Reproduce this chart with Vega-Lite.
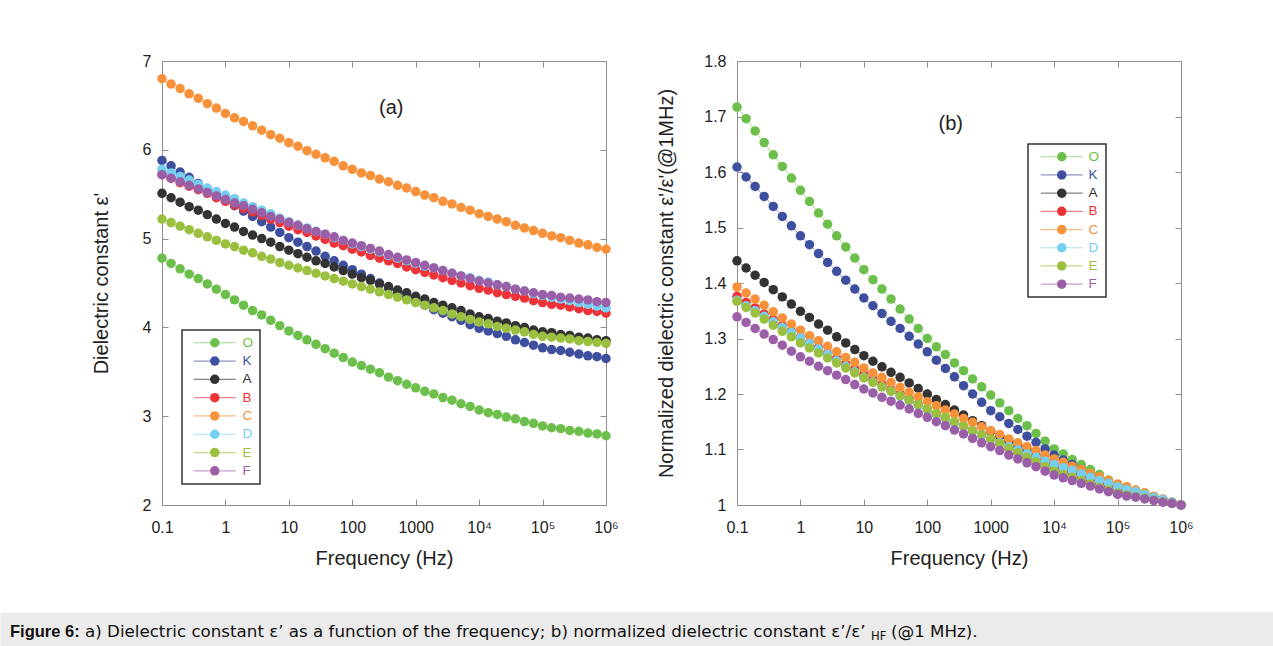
{
"$schema": "https://vega.github.io/schema/vega-lite/v6.json",
"background": "white",
"padding": {"top": 52, "left": 0, "right": 0, "bottom": 0},
"data": {"values": [
{"s":"O","f":0.1,"a":4.78,"b":1.717},{"s":"O","f":0.139,"a":4.72,"b":1.696},{"s":"O","f":0.193,"a":4.66,"b":1.674},{"s":"O","f":0.268,"a":4.6,"b":1.653},{"s":"O","f":0.373,"a":4.55,"b":1.631},{"s":"O","f":0.518,"a":4.49,"b":1.61},{"s":"O","f":0.72,"a":4.43,"b":1.589},
{"s":"O","f":1,"a":4.37,"b":1.567},{"s":"O","f":1.39,"a":4.31,"b":1.547},{"s":"O","f":1.93,"a":4.25,"b":1.526},{"s":"O","f":2.68,"a":4.19,"b":1.506},{"s":"O","f":3.73,"a":4.14,"b":1.485},{"s":"O","f":5.18,"a":4.08,"b":1.465},{"s":"O","f":7.2,"a":4.02,"b":1.445},
{"s":"O","f":10,"a":3.96,"b":1.424},{"s":"O","f":13.9,"a":3.91,"b":1.406},{"s":"O","f":19.3,"a":3.86,"b":1.389},{"s":"O","f":26.8,"a":3.81,"b":1.371},{"s":"O","f":37.3,"a":3.76,"b":1.353},{"s":"O","f":51.8,"a":3.71,"b":1.335},{"s":"O","f":72,"a":3.66,"b":1.318},
{"s":"O","f":100,"a":3.61,"b":1.3},{"s":"O","f":139,"a":3.57,"b":1.285},{"s":"O","f":193,"a":3.53,"b":1.271},{"s":"O","f":268,"a":3.49,"b":1.256},{"s":"O","f":373,"a":3.44,"b":1.242},{"s":"O","f":518,"a":3.4,"b":1.227},{"s":"O","f":720,"a":3.36,"b":1.213},
{"s":"O","f":1000,"a":3.32,"b":1.198},{"s":"O","f":1390,"a":3.28,"b":1.184},{"s":"O","f":1930,"a":3.25,"b":1.17},{"s":"O","f":2680,"a":3.21,"b":1.156},{"s":"O","f":3730,"a":3.18,"b":1.143},{"s":"O","f":5180,"a":3.14,"b":1.129},{"s":"O","f":7200,"a":3.11,"b":1.115},
{"s":"O","f":10000,"a":3.07,"b":1.101},{"s":"O","f":13900,"a":3.04,"b":1.092},{"s":"O","f":19300,"a":3.02,"b":1.082},{"s":"O","f":26800,"a":2.99,"b":1.073},{"s":"O","f":37300,"a":2.97,"b":1.064},{"s":"O","f":51800,"a":2.94,"b":1.055},{"s":"O","f":72000,"a":2.92,"b":1.045},
{"s":"O","f":100000,"a":2.89,"b":1.036},{"s":"O","f":139000,"a":2.87,"b":1.031},{"s":"O","f":193000,"a":2.86,"b":1.026},{"s":"O","f":268000,"a":2.84,"b":1.021},{"s":"O","f":373000,"a":2.83,"b":1.015},{"s":"O","f":518000,"a":2.81,"b":1.01},{"s":"O","f":720000,"a":2.8,"b":1.005},{"s":"O","f":1000000,"a":2.78,"b":1},
{"s":"K","f":0.1,"a":5.88,"b":1.609},{"s":"K","f":0.139,"a":5.82,"b":1.591},{"s":"K","f":0.193,"a":5.75,"b":1.574},{"s":"K","f":0.268,"a":5.69,"b":1.556},{"s":"K","f":0.373,"a":5.62,"b":1.538},{"s":"K","f":0.518,"a":5.56,"b":1.52},{"s":"K","f":0.72,"a":5.49,"b":1.503},
{"s":"K","f":1,"a":5.43,"b":1.485},{"s":"K","f":1.39,"a":5.37,"b":1.469},{"s":"K","f":1.93,"a":5.31,"b":1.453},{"s":"K","f":2.68,"a":5.25,"b":1.437},{"s":"K","f":3.73,"a":5.19,"b":1.421},{"s":"K","f":5.18,"a":5.13,"b":1.405},{"s":"K","f":7.2,"a":5.07,"b":1.389},
{"s":"K","f":10,"a":5.01,"b":1.373},{"s":"K","f":13.9,"a":4.96,"b":1.359},{"s":"K","f":19.3,"a":4.91,"b":1.345},{"s":"K","f":26.8,"a":4.86,"b":1.331},{"s":"K","f":37.3,"a":4.8,"b":1.318},{"s":"K","f":51.8,"a":4.75,"b":1.304},{"s":"K","f":72,"a":4.7,"b":1.29},
{"s":"K","f":100,"a":4.65,"b":1.276},{"s":"K","f":139,"a":4.6,"b":1.261},{"s":"K","f":193,"a":4.55,"b":1.246},{"s":"K","f":268,"a":4.5,"b":1.231},{"s":"K","f":373,"a":4.44,"b":1.215},{"s":"K","f":518,"a":4.39,"b":1.2},{"s":"K","f":720,"a":4.34,"b":1.185},
{"s":"K","f":1000,"a":4.29,"b":1.17},{"s":"K","f":1390,"a":4.25,"b":1.159},{"s":"K","f":1930,"a":4.2,"b":1.147},{"s":"K","f":2680,"a":4.16,"b":1.136},{"s":"K","f":3730,"a":4.12,"b":1.124},{"s":"K","f":5180,"a":4.08,"b":1.113},{"s":"K","f":7200,"a":4.03,"b":1.101},
{"s":"K","f":10000,"a":3.99,"b":1.09},{"s":"K","f":13900,"a":3.96,"b":1.081},{"s":"K","f":19300,"a":3.93,"b":1.073},{"s":"K","f":26800,"a":3.9,"b":1.064},{"s":"K","f":37300,"a":3.86,"b":1.056},{"s":"K","f":51800,"a":3.83,"b":1.047},{"s":"K","f":72000,"a":3.8,"b":1.039},
{"s":"K","f":100000,"a":3.77,"b":1.03},{"s":"K","f":139000,"a":3.75,"b":1.026},{"s":"K","f":193000,"a":3.74,"b":1.021},{"s":"K","f":268000,"a":3.72,"b":1.017},{"s":"K","f":373000,"a":3.7,"b":1.013},{"s":"K","f":518000,"a":3.68,"b":1.009},{"s":"K","f":720000,"a":3.67,"b":1.004},{"s":"K","f":1000000,"a":3.65,"b":1},
{"s":"A","f":0.1,"a":5.51,"b":1.44},{"s":"A","f":0.139,"a":5.46,"b":1.427},{"s":"A","f":0.193,"a":5.41,"b":1.414},{"s":"A","f":0.268,"a":5.36,"b":1.401},{"s":"A","f":0.373,"a":5.32,"b":1.388},{"s":"A","f":0.518,"a":5.27,"b":1.375},{"s":"A","f":0.72,"a":5.22,"b":1.362},
{"s":"A","f":1,"a":5.17,"b":1.349},{"s":"A","f":1.39,"a":5.13,"b":1.338},{"s":"A","f":1.93,"a":5.08,"b":1.326},{"s":"A","f":2.68,"a":5.04,"b":1.315},{"s":"A","f":3.73,"a":5.0,"b":1.303},{"s":"A","f":5.18,"a":4.96,"b":1.292},{"s":"A","f":7.2,"a":4.91,"b":1.28},
{"s":"A","f":10,"a":4.87,"b":1.269},{"s":"A","f":13.9,"a":4.83,"b":1.259},{"s":"A","f":19.3,"a":4.79,"b":1.249},{"s":"A","f":26.8,"a":4.75,"b":1.239},{"s":"A","f":37.3,"a":4.72,"b":1.23},{"s":"A","f":51.8,"a":4.68,"b":1.22},{"s":"A","f":72,"a":4.64,"b":1.21},
{"s":"A","f":100,"a":4.6,"b":1.2},{"s":"A","f":139,"a":4.56,"b":1.19},{"s":"A","f":193,"a":4.53,"b":1.181},{"s":"A","f":268,"a":4.49,"b":1.171},{"s":"A","f":373,"a":4.46,"b":1.162},{"s":"A","f":518,"a":4.42,"b":1.152},{"s":"A","f":720,"a":4.39,"b":1.143},
{"s":"A","f":1000,"a":4.35,"b":1.133},{"s":"A","f":1390,"a":4.32,"b":1.124},{"s":"A","f":1930,"a":4.28,"b":1.115},{"s":"A","f":2680,"a":4.25,"b":1.106},{"s":"A","f":3730,"a":4.22,"b":1.098},{"s":"A","f":5180,"a":4.19,"b":1.089},{"s":"A","f":7200,"a":4.15,"b":1.08},
{"s":"A","f":10000,"a":4.12,"b":1.071},{"s":"A","f":13900,"a":4.1,"b":1.065},{"s":"A","f":19300,"a":4.07,"b":1.059},{"s":"A","f":26800,"a":4.05,"b":1.053},{"s":"A","f":37300,"a":4.02,"b":1.048},{"s":"A","f":51800,"a":4.0,"b":1.042},{"s":"A","f":72000,"a":3.97,"b":1.036},
{"s":"A","f":100000,"a":3.95,"b":1.03},{"s":"A","f":139000,"a":3.94,"b":1.026},{"s":"A","f":193000,"a":3.92,"b":1.021},{"s":"A","f":268000,"a":3.91,"b":1.017},{"s":"A","f":373000,"a":3.89,"b":1.013},{"s":"A","f":518000,"a":3.88,"b":1.009},{"s":"A","f":720000,"a":3.86,"b":1.004},{"s":"A","f":1000000,"a":3.85,"b":1},
{"s":"B","f":0.1,"a":5.72,"b":1.376},{"s":"B","f":0.139,"a":5.68,"b":1.365},{"s":"B","f":0.193,"a":5.63,"b":1.355},{"s":"B","f":0.268,"a":5.59,"b":1.344},{"s":"B","f":0.373,"a":5.55,"b":1.334},{"s":"B","f":0.518,"a":5.51,"b":1.323},{"s":"B","f":0.72,"a":5.46,"b":1.313},
{"s":"B","f":1,"a":5.42,"b":1.302},{"s":"B","f":1.39,"a":5.38,"b":1.292},{"s":"B","f":1.93,"a":5.34,"b":1.283},{"s":"B","f":2.68,"a":5.3,"b":1.273},{"s":"B","f":3.73,"a":5.26,"b":1.264},{"s":"B","f":5.18,"a":5.22,"b":1.254},{"s":"B","f":7.2,"a":5.18,"b":1.245},
{"s":"B","f":10,"a":5.14,"b":1.235},{"s":"B","f":13.9,"a":5.1,"b":1.226},{"s":"B","f":19.3,"a":5.07,"b":1.217},{"s":"B","f":26.8,"a":5.03,"b":1.208},{"s":"B","f":37.3,"a":4.99,"b":1.2},{"s":"B","f":51.8,"a":4.95,"b":1.191},{"s":"B","f":72,"a":4.92,"b":1.182},
{"s":"B","f":100,"a":4.88,"b":1.173},{"s":"B","f":139,"a":4.85,"b":1.165},{"s":"B","f":193,"a":4.81,"b":1.157},{"s":"B","f":268,"a":4.78,"b":1.149},{"s":"B","f":373,"a":4.75,"b":1.142},{"s":"B","f":518,"a":4.72,"b":1.134},{"s":"B","f":720,"a":4.68,"b":1.126},
{"s":"B","f":1000,"a":4.65,"b":1.118},{"s":"B","f":1390,"a":4.62,"b":1.111},{"s":"B","f":1930,"a":4.59,"b":1.103},{"s":"B","f":2680,"a":4.56,"b":1.096},{"s":"B","f":3730,"a":4.53,"b":1.089},{"s":"B","f":5180,"a":4.5,"b":1.082},{"s":"B","f":7200,"a":4.47,"b":1.074},
{"s":"B","f":10000,"a":4.44,"b":1.067},{"s":"B","f":13900,"a":4.42,"b":1.062},{"s":"B","f":19300,"a":4.39,"b":1.056},{"s":"B","f":26800,"a":4.37,"b":1.051},{"s":"B","f":37300,"a":4.35,"b":1.045},{"s":"B","f":51800,"a":4.33,"b":1.04},{"s":"B","f":72000,"a":4.3,"b":1.034},
{"s":"B","f":100000,"a":4.28,"b":1.029},{"s":"B","f":139000,"a":4.26,"b":1.025},{"s":"B","f":193000,"a":4.25,"b":1.021},{"s":"B","f":268000,"a":4.23,"b":1.017},{"s":"B","f":373000,"a":4.21,"b":1.012},{"s":"B","f":518000,"a":4.19,"b":1.008},{"s":"B","f":720000,"a":4.18,"b":1.004},{"s":"B","f":1000000,"a":4.16,"b":1},
{"s":"C","f":0.1,"a":6.8,"b":1.393},{"s":"C","f":0.139,"a":6.74,"b":1.382},{"s":"C","f":0.193,"a":6.69,"b":1.371},{"s":"C","f":0.268,"a":6.63,"b":1.36},{"s":"C","f":0.373,"a":6.58,"b":1.348},{"s":"C","f":0.518,"a":6.52,"b":1.337},{"s":"C","f":0.72,"a":6.47,"b":1.326},
{"s":"C","f":1,"a":6.41,"b":1.315},{"s":"C","f":1.39,"a":6.36,"b":1.305},{"s":"C","f":1.93,"a":6.32,"b":1.296},{"s":"C","f":2.68,"a":6.27,"b":1.286},{"s":"C","f":3.73,"a":6.22,"b":1.276},{"s":"C","f":5.18,"a":6.17,"b":1.266},{"s":"C","f":7.2,"a":6.13,"b":1.257},
{"s":"C","f":10,"a":6.08,"b":1.247},{"s":"C","f":13.9,"a":6.04,"b":1.238},{"s":"C","f":19.3,"a":5.99,"b":1.23},{"s":"C","f":26.8,"a":5.95,"b":1.221},{"s":"C","f":37.3,"a":5.91,"b":1.212},{"s":"C","f":51.8,"a":5.87,"b":1.203},{"s":"C","f":72,"a":5.82,"b":1.195},
{"s":"C","f":100,"a":5.78,"b":1.186},{"s":"C","f":139,"a":5.74,"b":1.179},{"s":"C","f":193,"a":5.71,"b":1.171},{"s":"C","f":268,"a":5.67,"b":1.164},{"s":"C","f":373,"a":5.64,"b":1.156},{"s":"C","f":518,"a":5.6,"b":1.149},{"s":"C","f":720,"a":5.57,"b":1.141},
{"s":"C","f":1000,"a":5.53,"b":1.134},{"s":"C","f":1390,"a":5.49,"b":1.127},{"s":"C","f":1930,"a":5.46,"b":1.119},{"s":"C","f":2680,"a":5.42,"b":1.112},{"s":"C","f":3730,"a":5.39,"b":1.105},{"s":"C","f":5180,"a":5.35,"b":1.098},{"s":"C","f":7200,"a":5.32,"b":1.09},
{"s":"C","f":10000,"a":5.28,"b":1.083},{"s":"C","f":13900,"a":5.25,"b":1.077},{"s":"C","f":19300,"a":5.22,"b":1.07},{"s":"C","f":26800,"a":5.19,"b":1.064},{"s":"C","f":37300,"a":5.15,"b":1.057},{"s":"C","f":51800,"a":5.12,"b":1.051},{"s":"C","f":72000,"a":5.09,"b":1.044},
{"s":"C","f":100000,"a":5.06,"b":1.038},{"s":"C","f":139000,"a":5.03,"b":1.033},{"s":"C","f":193000,"a":5.01,"b":1.027},{"s":"C","f":268000,"a":4.98,"b":1.022},{"s":"C","f":373000,"a":4.95,"b":1.016},{"s":"C","f":518000,"a":4.93,"b":1.011},{"s":"C","f":720000,"a":4.9,"b":1.005},{"s":"C","f":1000000,"a":4.88,"b":1},
{"s":"D","f":0.1,"a":5.78,"b":1.369},{"s":"D","f":0.139,"a":5.74,"b":1.359},{"s":"D","f":0.193,"a":5.7,"b":1.35},{"s":"D","f":0.268,"a":5.66,"b":1.34},{"s":"D","f":0.373,"a":5.61,"b":1.33},{"s":"D","f":0.518,"a":5.57,"b":1.32},{"s":"D","f":0.72,"a":5.53,"b":1.311},
{"s":"D","f":1,"a":5.49,"b":1.301},{"s":"D","f":1.39,"a":5.45,"b":1.291},{"s":"D","f":1.93,"a":5.4,"b":1.281},{"s":"D","f":2.68,"a":5.36,"b":1.271},{"s":"D","f":3.73,"a":5.32,"b":1.26},{"s":"D","f":5.18,"a":5.28,"b":1.25},{"s":"D","f":7.2,"a":5.23,"b":1.24},
{"s":"D","f":10,"a":5.19,"b":1.23},{"s":"D","f":13.9,"a":5.15,"b":1.222},{"s":"D","f":19.3,"a":5.12,"b":1.213},{"s":"D","f":26.8,"a":5.08,"b":1.205},{"s":"D","f":37.3,"a":5.05,"b":1.196},{"s":"D","f":51.8,"a":5.01,"b":1.188},{"s":"D","f":72,"a":4.98,"b":1.179},
{"s":"D","f":100,"a":4.94,"b":1.171},{"s":"D","f":139,"a":4.91,"b":1.163},{"s":"D","f":193,"a":4.88,"b":1.156},{"s":"D","f":268,"a":4.85,"b":1.148},{"s":"D","f":373,"a":4.81,"b":1.141},{"s":"D","f":518,"a":4.78,"b":1.133},{"s":"D","f":720,"a":4.75,"b":1.125},
{"s":"D","f":1000,"a":4.72,"b":1.118},{"s":"D","f":1390,"a":4.69,"b":1.112},{"s":"D","f":1930,"a":4.67,"b":1.105},{"s":"D","f":2680,"a":4.64,"b":1.099},{"s":"D","f":3730,"a":4.61,"b":1.092},{"s":"D","f":5180,"a":4.58,"b":1.086},{"s":"D","f":7200,"a":4.56,"b":1.079},
{"s":"D","f":10000,"a":4.53,"b":1.073},{"s":"D","f":13900,"a":4.51,"b":1.067},{"s":"D","f":19300,"a":4.48,"b":1.062},{"s":"D","f":26800,"a":4.46,"b":1.056},{"s":"D","f":37300,"a":4.43,"b":1.05},{"s":"D","f":51800,"a":4.41,"b":1.044},{"s":"D","f":72000,"a":4.38,"b":1.039},
{"s":"D","f":100000,"a":4.36,"b":1.033},{"s":"D","f":139000,"a":4.34,"b":1.028},{"s":"D","f":193000,"a":4.32,"b":1.024},{"s":"D","f":268000,"a":4.3,"b":1.019},{"s":"D","f":373000,"a":4.28,"b":1.014},{"s":"D","f":518000,"a":4.26,"b":1.01},{"s":"D","f":720000,"a":4.24,"b":1.005},{"s":"D","f":1000000,"a":4.22,"b":1},
{"s":"E","f":0.1,"a":5.22,"b":1.367},{"s":"E","f":0.139,"a":5.18,"b":1.356},{"s":"E","f":0.193,"a":5.14,"b":1.346},{"s":"E","f":0.268,"a":5.1,"b":1.335},{"s":"E","f":0.373,"a":5.06,"b":1.324},{"s":"E","f":0.518,"a":5.02,"b":1.313},{"s":"E","f":0.72,"a":4.98,"b":1.303},
{"s":"E","f":1,"a":4.94,"b":1.292},{"s":"E","f":1.39,"a":4.91,"b":1.283},{"s":"E","f":1.93,"a":4.87,"b":1.274},{"s":"E","f":2.68,"a":4.84,"b":1.265},{"s":"E","f":3.73,"a":4.8,"b":1.256},{"s":"E","f":5.18,"a":4.77,"b":1.247},{"s":"E","f":7.2,"a":4.73,"b":1.238},
{"s":"E","f":10,"a":4.7,"b":1.229},{"s":"E","f":13.9,"a":4.67,"b":1.221},{"s":"E","f":19.3,"a":4.64,"b":1.213},{"s":"E","f":26.8,"a":4.61,"b":1.205},{"s":"E","f":37.3,"a":4.58,"b":1.197},{"s":"E","f":51.8,"a":4.55,"b":1.189},{"s":"E","f":72,"a":4.52,"b":1.181},
{"s":"E","f":100,"a":4.49,"b":1.173},{"s":"E","f":139,"a":4.46,"b":1.165},{"s":"E","f":193,"a":4.43,"b":1.158},{"s":"E","f":268,"a":4.4,"b":1.15},{"s":"E","f":373,"a":4.37,"b":1.142},{"s":"E","f":518,"a":4.34,"b":1.134},{"s":"E","f":720,"a":4.31,"b":1.127},
{"s":"E","f":1000,"a":4.28,"b":1.119},{"s":"E","f":1390,"a":4.25,"b":1.111},{"s":"E","f":1930,"a":4.22,"b":1.102},{"s":"E","f":2680,"a":4.19,"b":1.094},{"s":"E","f":3730,"a":4.15,"b":1.086},{"s":"E","f":5180,"a":4.12,"b":1.078},{"s":"E","f":7200,"a":4.09,"b":1.069},
{"s":"E","f":10000,"a":4.06,"b":1.061},{"s":"E","f":13900,"a":4.04,"b":1.055},{"s":"E","f":19300,"a":4.01,"b":1.05},{"s":"E","f":26800,"a":3.99,"b":1.044},{"s":"E","f":37300,"a":3.97,"b":1.038},{"s":"E","f":51800,"a":3.95,"b":1.032},{"s":"E","f":72000,"a":3.92,"b":1.027},
{"s":"E","f":100000,"a":3.9,"b":1.021},{"s":"E","f":139000,"a":3.89,"b":1.018},{"s":"E","f":193000,"a":3.88,"b":1.015},{"s":"E","f":268000,"a":3.87,"b":1.012},{"s":"E","f":373000,"a":3.85,"b":1.009},{"s":"E","f":518000,"a":3.84,"b":1.006},{"s":"E","f":720000,"a":3.83,"b":1.003},{"s":"E","f":1000000,"a":3.82,"b":1},
{"s":"F","f":0.1,"a":5.72,"b":1.339},{"s":"F","f":0.139,"a":5.68,"b":1.329},{"s":"F","f":0.193,"a":5.64,"b":1.318},{"s":"F","f":0.268,"a":5.6,"b":1.308},{"s":"F","f":0.373,"a":5.56,"b":1.298},{"s":"F","f":0.518,"a":5.52,"b":1.288},{"s":"F","f":0.72,"a":5.48,"b":1.277},
{"s":"F","f":1,"a":5.44,"b":1.267},{"s":"F","f":1.39,"a":5.4,"b":1.259},{"s":"F","f":1.93,"a":5.37,"b":1.25},{"s":"F","f":2.68,"a":5.33,"b":1.242},{"s":"F","f":3.73,"a":5.29,"b":1.234},{"s":"F","f":5.18,"a":5.25,"b":1.226},{"s":"F","f":7.2,"a":5.22,"b":1.217},
{"s":"F","f":10,"a":5.18,"b":1.209},{"s":"F","f":13.9,"a":5.15,"b":1.202},{"s":"F","f":19.3,"a":5.11,"b":1.194},{"s":"F","f":26.8,"a":5.08,"b":1.187},{"s":"F","f":37.3,"a":5.05,"b":1.18},{"s":"F","f":51.8,"a":5.02,"b":1.173},{"s":"F","f":72,"a":4.98,"b":1.165},
{"s":"F","f":100,"a":4.95,"b":1.158},{"s":"F","f":139,"a":4.92,"b":1.15},{"s":"F","f":193,"a":4.89,"b":1.143},{"s":"F","f":268,"a":4.86,"b":1.135},{"s":"F","f":373,"a":4.82,"b":1.128},{"s":"F","f":518,"a":4.79,"b":1.12},{"s":"F","f":720,"a":4.76,"b":1.112},
{"s":"F","f":1000,"a":4.73,"b":1.105},{"s":"F","f":1390,"a":4.7,"b":1.098},{"s":"F","f":1930,"a":4.67,"b":1.09},{"s":"F","f":2680,"a":4.64,"b":1.083},{"s":"F","f":3730,"a":4.61,"b":1.076},{"s":"F","f":5180,"a":4.58,"b":1.069},{"s":"F","f":7200,"a":4.55,"b":1.061},
{"s":"F","f":10000,"a":4.52,"b":1.054},{"s":"F","f":13900,"a":4.5,"b":1.049},{"s":"F","f":19300,"a":4.48,"b":1.044},{"s":"F","f":26800,"a":4.46,"b":1.039},{"s":"F","f":37300,"a":4.43,"b":1.034},{"s":"F","f":51800,"a":4.41,"b":1.029},{"s":"F","f":72000,"a":4.39,"b":1.024},
{"s":"F","f":100000,"a":4.37,"b":1.019},{"s":"F","f":139000,"a":4.36,"b":1.016},{"s":"F","f":193000,"a":4.34,"b":1.014},{"s":"F","f":268000,"a":4.33,"b":1.011},{"s":"F","f":373000,"a":4.32,"b":1.008},{"s":"F","f":518000,"a":4.31,"b":1.005},{"s":"F","f":720000,"a":4.29,"b":1.003},{"s":"F","f":1000000,"a":4.28,"b":1}
]},
"spacing": 43,
"columns": 1,
"align": "none",
"concat": [
{
"spacing": 37,
"resolve": {"legend": {"stroke": "independent", "fill": "independent"}},
"hconcat": [
{
"width": 444, "height": 444,
"resolve": {"axis": {"x": "independent", "y": "independent"}},
"layer": [
{"mark": {"type": "line", "strokeWidth": 1, "opacity": 0.6},
 "encoding": {
  "x": {"field": "f", "type": "quantitative", "scale": {"type": "log", "domain": [0.1, 1000000], "nice": false},
        "axis": {"orient": "bottom", "values": [0.1, 1, 10, 100, 1000, 10000, 100000, 1000000], "labelFlush": false, "labelOverlap": false,
                 "labelExpr": "datum.value < 0.5 ? '0.1' : datum.value < 5000 ? format(datum.value, 'd') : datum.value < 50000 ? '10⁴' : datum.value < 500000 ? '10⁵' : '10⁶'",
                 "title": "Frequency (Hz)", "labelPadding": 20, "titlePadding": 13}},
  "y": {"field": "a", "type": "quantitative", "scale": {"domain": [2, 7], "nice": false, "zero": false},
        "axis": {"orient": "left", "values": [2, 3, 4, 5, 6, 7], "format": "~g", "labelOverlap": false, "title": "Dielectric constant ε'", "labelPadding": 17, "titlePadding": 31}},
  "stroke": {"field": "s", "type": "nominal",
             "scale": {"domain": ["O", "K", "A", "B", "C", "D", "E", "F"], "range": ["#6cbf4a", "#3f4fa0", "#333333", "#ee3338", "#f7923a", "#74cff0", "#9bbf3f", "#9b5fa8"]},
             "legend": {"orient": "none", "legendX": 20, "legendY": 269, "title": null, "symbolType": "M-4.43,0H4.43", "symbolSize": 90, "symbolStrokeWidth": 1.2, "symbolOpacity": 0.6,
                        "symbolOffset": 20, "labelOffset": 21, "padding": 6, "rowPadding": 3.3, "strokeColor": "#333333", "labelFont": "Liberation Sans", "labelFontSize": 13.5,
                        "encode": {"labels": {"update": {"fill": {"signal": "datum.value === 'O' ? '#6cbf4a' : datum.value === 'K' ? '#3f4fa0' : datum.value === 'A' ? '#333333' : datum.value === 'B' ? '#ee3338' : datum.value === 'C' ? '#f7923a' : datum.value === 'D' ? '#74cff0' : datum.value === 'E' ? '#9bbf3f' : '#9b5fa8'"}}},
                                   "legend": {"update": {"strokeWidth": {"value": 1.5}}}}}}
 }},
{"mark": {"type": "point", "filled": true, "size": 90, "opacity": 1, "strokeWidth": 0},
 "encoding": {
  "x": {"field": "f", "type": "quantitative", "axis": {"orient": "top", "values": [0.1, 1, 10, 100, 1000, 10000, 100000, 1000000], "labels": false, "title": null}},
  "y": {"field": "a", "type": "quantitative", "axis": {"orient": "right", "values": [2, 3, 4, 5, 6, 7], "labels": false, "title": null}},
  "fill": {"field": "s", "type": "nominal", "sort": ["O", "K", "A", "B", "C", "D", "E", "F"],
           "scale": {"range": ["#6cbf4a", "#3f4fa0", "#333333", "#ee3338", "#f7923a", "#74cff0", "#9bbf3f", "#9b5fa8"]},
           "legend": {"orient": "none", "legendX": 20, "legendY": 269, "title": null, "symbolType": "circle", "symbolSize": 90, "symbolStrokeWidth": 1.2,
                      "symbolOffset": 20, "labelOffset": 21, "padding": 6, "rowPadding": 3.3, "labelOpacity": 0, "labelFont": "Liberation Sans", "labelFontSize": 13.5}}
 }},
{"data": {"values": [{"t": "(a)"}]},
 "mark": {"type": "text", "font": "Liberation Sans", "fontSize": 20, "color": "#222222"},
 "encoding": {
  "x": {"datum": 412, "type": "quantitative", "axis": null},
  "y": {"datum": 6.47, "type": "quantitative", "axis": {"orient": "left", "values": [], "labels": false, "ticks": false, "domain": false, "title": "x", "titleOpacity": 0, "titleFontSize": 20, "titlePadding": 141}},
  "text": {"field": "t"}
 }}
]
},
{
"width": 444, "height": 444,
"resolve": {"axis": {"x": "independent", "y": "independent"}},
"layer": [
{"mark": {"type": "line", "strokeWidth": 1, "opacity": 0.6},
 "encoding": {
  "x": {"field": "f", "type": "quantitative", "scale": {"type": "log", "domain": [0.1, 1000000], "nice": false},
        "axis": {"orient": "bottom", "values": [0.1, 1, 10, 100, 1000, 10000, 100000, 1000000], "labelFlush": false, "labelOverlap": false,
                 "labelExpr": "datum.value < 0.5 ? '0.1' : datum.value < 5000 ? format(datum.value, 'd') : datum.value < 50000 ? '10⁴' : datum.value < 500000 ? '10⁵' : '10⁶'",
                 "title": "Frequency (Hz)", "labelPadding": 20, "titlePadding": 13}},
  "y": {"field": "b", "type": "quantitative", "scale": {"domain": [1, 1.8], "nice": false, "zero": false},
        "axis": {"orient": "left", "values": [1, 1.1, 1.2, 1.3, 1.4, 1.5, 1.6, 1.7, 1.8], "format": "~g", "labelOverlap": false, "title": "Normalized dielectric constant ε'/ε'(@1MHz)", "labelPadding": 17, "titlePadding": 27}},
  "stroke": {"field": "s", "type": "nominal",
             "scale": {"domain": ["O", "K", "A", "B", "C", "D", "E", "F"], "range": ["#6cbf4a", "#3f4fa0", "#333333", "#ee3338", "#f7923a", "#74cff0", "#9bbf3f", "#9b5fa8"]},
             "legend": {"orient": "none", "legendX": 291, "legendY": 83, "title": null, "symbolType": "M-4.43,0H4.43", "symbolSize": 90, "symbolStrokeWidth": 1.2, "symbolOpacity": 0.6,
                        "symbolOffset": 21, "labelOffset": 20, "padding": 6, "rowPadding": 3.2, "strokeColor": "#333333", "labelFont": "Liberation Sans", "labelFontSize": 13.5,
                        "encode": {"labels": {"update": {"fill": {"signal": "datum.value === 'O' ? '#6cbf4a' : datum.value === 'K' ? '#3f4fa0' : datum.value === 'A' ? '#333333' : datum.value === 'B' ? '#ee3338' : datum.value === 'C' ? '#f7923a' : datum.value === 'D' ? '#74cff0' : datum.value === 'E' ? '#9bbf3f' : '#9b5fa8'"}}},
                                   "legend": {"update": {"strokeWidth": {"value": 1.5}}}}}}
 }},
{"mark": {"type": "point", "filled": true, "size": 90, "opacity": 1, "strokeWidth": 0},
 "encoding": {
  "x": {"field": "f", "type": "quantitative", "axis": {"orient": "top", "values": [0.1, 1, 10, 100, 1000, 10000, 100000, 1000000], "labels": false, "title": null}},
  "y": {"field": "b", "type": "quantitative", "axis": {"orient": "right", "values": [1, 1.1, 1.2, 1.3, 1.4, 1.5, 1.6, 1.7, 1.8], "labels": false, "title": null}},
  "fill": {"field": "s", "type": "nominal", "sort": ["O", "K", "A", "B", "C", "D", "E", "F"],
           "scale": {"range": ["#6cbf4a", "#3f4fa0", "#333333", "#ee3338", "#f7923a", "#74cff0", "#9bbf3f", "#9b5fa8"]},
           "legend": {"orient": "none", "legendX": 291, "legendY": 83, "title": null, "symbolType": "circle", "symbolSize": 90, "symbolStrokeWidth": 1.2,
                      "symbolOffset": 21, "labelOffset": 20, "padding": 6, "rowPadding": 3.2, "labelOpacity": 0, "labelFont": "Liberation Sans", "labelFontSize": 13.5}}
 }},
{"data": {"values": [{"t": "(b)"}]},
 "mark": {"type": "text", "font": "Liberation Sans", "fontSize": 20, "color": "#222222"},
 "encoding": {
  "x": {"datum": 234, "type": "quantitative", "axis": null},
  "y": {"datum": 1.687, "type": "quantitative", "axis": null},
  "text": {"field": "t"}
 }}
]
}
]
},
{
"width": 1111, "height": 34,
"view": {"fill": "#ebebeb", "stroke": null},
"data": {"values": [{"p": "Figure 6:", "q": "a) Dielectric constant ε’ as a function of the frequency; b) normalized dielectric constant ε’/ε’", "r": "HF", "u": "(@1 MHz)."}]},
"layer": [
{"mark": {"type": "text", "align": "left", "baseline": "middle", "font": "Liberation Sans", "fontSize": 16.5, "fontWeight": "bold", "dx": -152, "color": "#111111"},
 "encoding": {"x": {"datum": 0, "type": "quantitative", "scale": {"domain": [0, 1]}, "axis": null},
              "y": {"datum": 0.4, "type": "quantitative", "scale": {"domain": [0, 1]},
                    "axis": {"orient": "left", "values": [], "labels": false, "ticks": false, "grid": false, "title": null, "domain": true, "domainColor": "#ebebeb", "domainWidth": 162, "domainCap": "butt", "offset": 81}},
              "text": {"field": "p"}}},
{"mark": {"type": "text", "align": "left", "baseline": "middle", "font": "DejaVu Sans", "fontSize": 16.7, "dx": -77, "color": "#111111"},
 "encoding": {"x": {"datum": 0, "type": "quantitative", "axis": null}, "y": {"datum": 0.4, "type": "quantitative"}, "text": {"field": "q"}}},
{"mark": {"type": "text", "align": "left", "baseline": "middle", "font": "DejaVu Sans", "fontSize": 11.6, "dx": 709, "dy": 5, "color": "#111111"},
 "encoding": {"x": {"datum": 0, "type": "quantitative", "axis": null}, "y": {"datum": 0.4, "type": "quantitative"}, "text": {"field": "r"}}},
{"mark": {"type": "text", "align": "left", "baseline": "middle", "font": "DejaVu Sans", "fontSize": 16.7, "dx": 729, "color": "#111111"},
 "encoding": {"x": {"datum": 0, "type": "quantitative", "axis": null}, "y": {"datum": 0.4, "type": "quantitative"}, "text": {"field": "u"}}}
]
}
],
"config": {
 "font": "Liberation Sans",
 "view": {"stroke": "#8f8f8f", "strokeWidth": 1},
 "axis": {"grid": false, "domain": false, "ticks": true, "tickColor": "#8f8f8f", "tickSize": -6, "tickWidth": 1,
          "labelFont": "Liberation Sans", "labelFontSize": 16, "labelColor": "#222222",
          "titleFont": "Liberation Sans", "titleFontSize": 20, "titleFontWeight": "normal", "titleColor": "#222222"}
}
}
